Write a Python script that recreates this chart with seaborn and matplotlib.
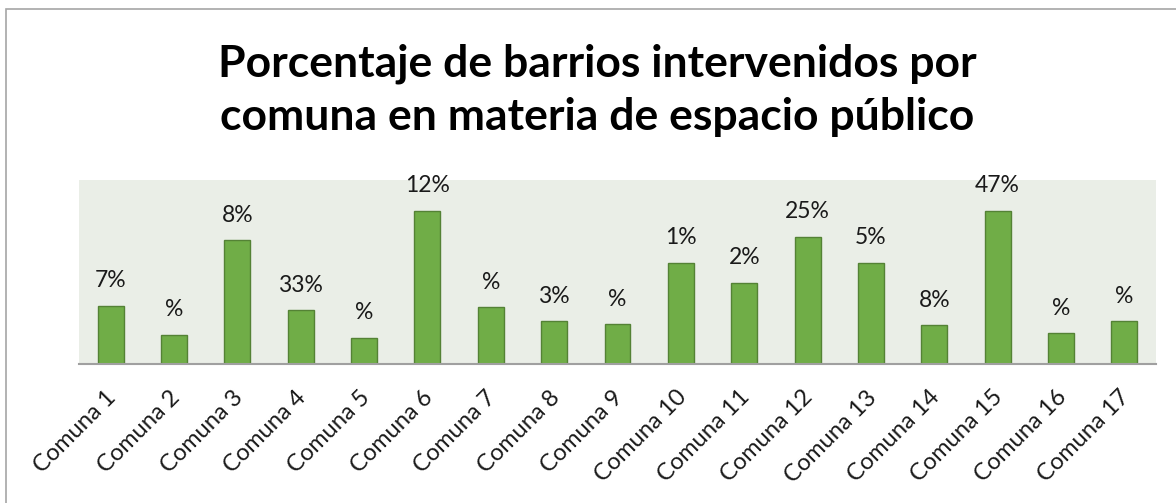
import matplotlib
matplotlib.use("Agg")
import matplotlib.pyplot as plt
import matplotlib.patches as mpatches
import matplotlib.transforms as mtransforms
import pandas as pd
import seaborn as sns

# Data
comunas = [f"Comuna {i}" for i in range(1, 18)]
valores = [1.90, 0.96, 4.04, 1.75, 0.85, 5.00, 1.85, 1.39, 1.30,
           3.30, 2.65, 4.15, 3.30, 1.26, 5.00, 1.01, 1.40]
etiquetas = ["7%", "%", "8%", "33%", "%", "12%", "%", "3%", "%",
             "1%", "2%", "25%", "5%", "8%", "47%", "%", "%"]
titulo = ["Porcentaje de barrios intervenidos por",
          "comuna en materia de espacio público"]

df = pd.DataFrame({"comuna": comunas, "valor": valores})

sns.set_theme(style="white")
plt.rcParams["font.family"] = ["Lato", "DejaVu Sans"]

W, H = 1176, 503
fig = plt.figure(figsize=(W / 100, H / 100), dpi=100)
fig.patch.set_facecolor("white")

# Outer chart frame
frame = mpatches.Rectangle((6 / W, 0 - 0.02), 1.2, 1 - 9 / H + 0.02,
                           transform=fig.transFigure, fill=False,
                           edgecolor="#A6A6A6", linewidth=1.2)
fig.patches.append(frame)

ax = fig.add_axes([79 / W, 1 - 364 / H, (1156 - 79) / W, (364 - 180) / H])
ax.set_facecolor("#EAEEE7")

sns.barplot(data=df, x="comuna", y="valor", ax=ax, color="#70AD47",
            saturation=1, width=0.41, edgecolor="#548235", linewidth=1.0)

ax.set_ylim(0, 6)
ax.set_xlim(-0.5, len(comunas) - 0.5)
ax.set_xlabel("")
ax.set_ylabel("")
ax.set_yticks([])
for side in ["top", "right", "left"]:
    ax.spines[side].set_visible(False)
ax.spines["bottom"].set_color("#A0A0A0")
ax.spines["bottom"].set_linewidth(1.5)

# Value labels above the bars
for i, (v, lab) in enumerate(zip(valores, etiquetas)):
    ax.annotate(lab, (i, v), xytext=(0, 18), textcoords="offset points",
                ha="center", va="center", fontsize=16.5, color="#1A1A1A")

# Rotated category labels
ax.tick_params(axis="x", length=0, pad=0)
ax.set_xticks(range(len(comunas)))
ax.set_xticklabels(comunas, rotation=45, ha="right", va="center",
                   rotation_mode="anchor", fontsize=17, color="#1A1A1A")
shift = mtransforms.ScaledTranslation(2 / 100, -30 / 100, fig.dpi_scale_trans)
for t in ax.get_xticklabels():
    t.set_transform(t.get_transform() + shift)

# Title
fig.text(597 / W, 1 - 76.7 / H, titulo[0], ha="center", va="baseline",
         fontsize=32, fontweight="bold", color="black")
fig.text(597 / W, 1 - 130 / H, titulo[1], ha="center", va="baseline",
         fontsize=32, fontweight="bold", color="black")

fig.savefig("out.png", dpi=100)
